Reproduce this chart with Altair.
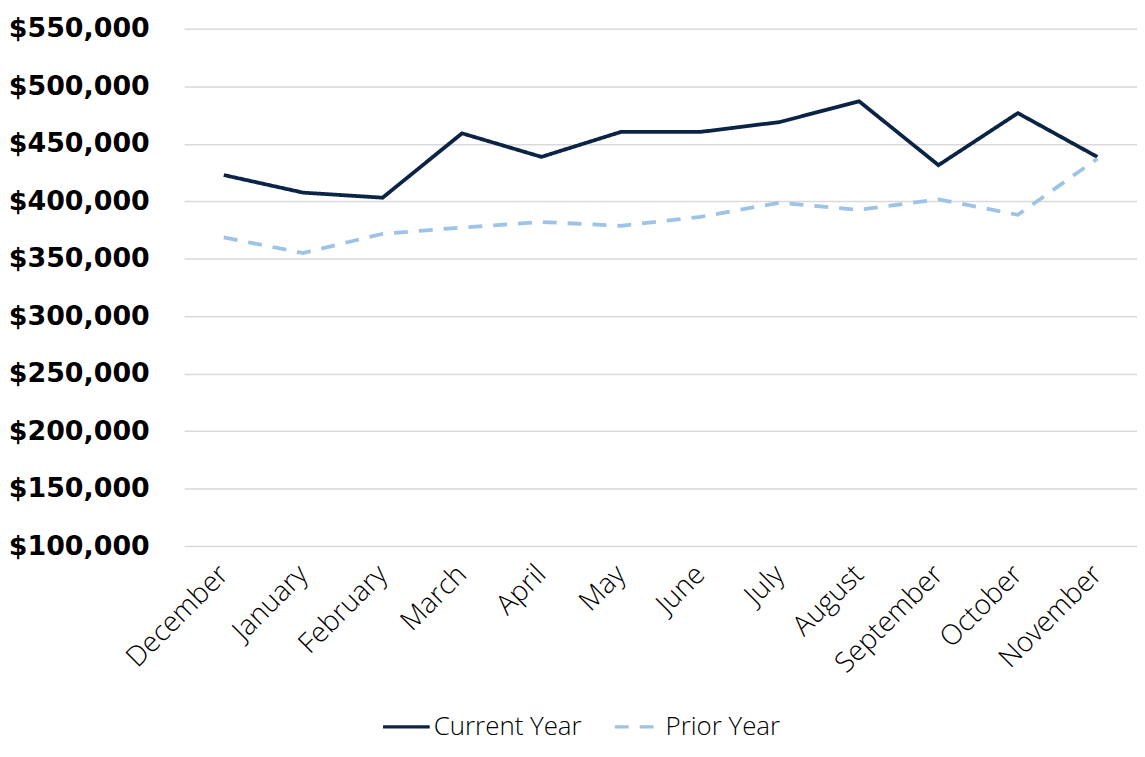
import altair as alt
import pandas as pd

months = ["December", "January", "February", "March", "April", "May", "June",
          "July", "August", "September", "October", "November"]
current_year = [422800, 407500, 403100, 459100, 438600, 460300, 460300,
                468900, 487000, 431400, 476700, 438600]
prior_year = [368500, 355000, 371700, 377200, 382000, 378600, 386400,
              398800, 392500, 401700, 388200, 437000]
series_names = ["Current Year", "Prior Year"]
y_ticks = [100000, 150000, 200000, 250000, 300000, 350000, 400000, 450000, 500000, 550000]

rows = []
for name, vals in zip(series_names, [current_year, prior_year]):
    for m, v in zip(months, vals):
        rows.append({"Month": m, "Value": v, "Series": name})
df = pd.DataFrame(rows)

legend_cfg = dict(title=None, orient="none", direction="horizontal",
                  legendX=198, legendY=676,
                  labelFont="Open Sans", labelFontSize=26, labelFontWeight=300,
                  labelColor="#000000", symbolType="stroke",
                  symbolSize=2200, symbolStrokeWidth=3.5,
                  columnPadding=26, labelOffset=2)

chart = alt.Chart(df).mark_line(strokeWidth=3.8, strokeCap="butt").encode(
    x=alt.X("Month:N", sort=months, title=None,
            scale=alt.Scale(type="point", padding=0.5),
            axis=alt.Axis(labelAngle=-45, labelAlign="right", labelBaseline="middle",
                          labelFont="Open Sans", labelFontSize=28, labelFontWeight=300,
                          labelColor="#000000",
                          labelPadding=24, domain=False, ticks=False, grid=False)),
    y=alt.Y("Value:Q", title=None,
            scale=alt.Scale(domain=[100000, 550000], nice=False, zero=False),
            axis=alt.Axis(values=y_ticks, format="$,.0f", labelFont="DejaVu Sans",
                          labelFontWeight="bold", labelFontSize=27, labelColor="#000000",
                          labelPadding=35, domain=False, ticks=False,
                          gridColor="#d9d9d9", gridWidth=1.5)),
    color=alt.Color("Series:N", sort=series_names,
                    scale=alt.Scale(domain=series_names, range=["#0b2345", "#9dc3e6"]),
                    legend=alt.Legend(**legend_cfg)),
    strokeDash=alt.StrokeDash("Series:N", sort=series_names,
                              scale=alt.Scale(domain=series_names, range=[[1, 0], [14, 11]]),
                              legend=alt.Legend(**legend_cfg)),
).properties(
    width=958, height=520,
    padding={"left": 0, "top": 5, "right": 0, "bottom": 0},
).configure_view(stroke=None)

chart.save("out.html", embed_options={"renderer": "svg", "actions": False})
